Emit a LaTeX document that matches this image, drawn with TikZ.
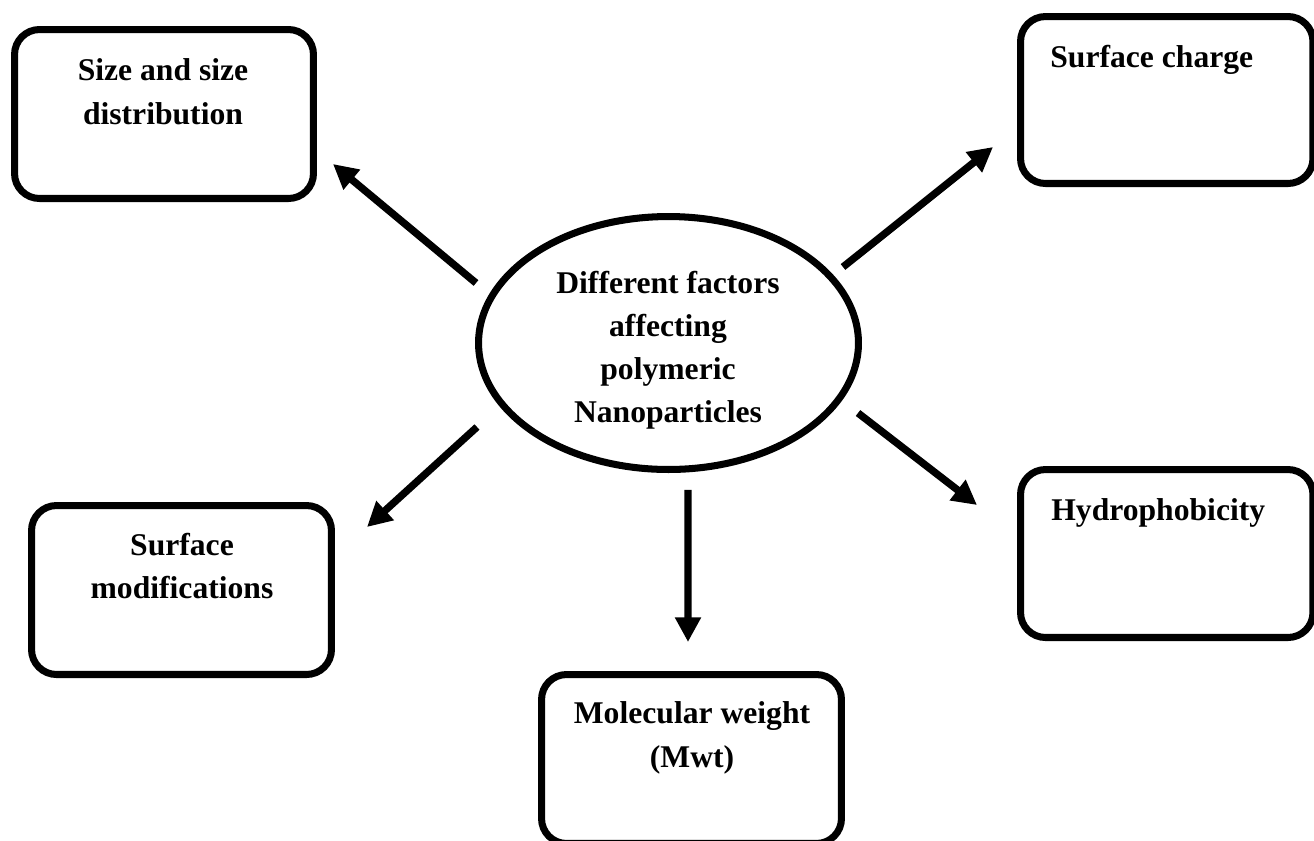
\documentclass[tikz,border=0pt]{standalone}
\usepackage{fontspec}
\setmainfont{Liberation Serif}
\usetikzlibrary{arrows.meta,shapes.geometric}

\begin{document}
\begin{tikzpicture}[x=0.02cm, y=-0.02cm,
  factor/.style={draw, line width=4pt, rounded corners=0.5cm, inner sep=0pt, outer sep=0pt},
  hub/.style={draw, ellipse, line width=4pt, inner sep=0pt, outer sep=0pt, minimum width=7.6cm, minimum height=5.06cm},
  lbl/.style={font=\fontsize{18}{24.6}\selectfont\bfseries, align=center, inner sep=0pt},
  arr/.style={line width=4.2pt, -{Triangle[length=14pt,width=14pt]}}]
  \useasboundingbox (0,0) rectangle (1314,840);
  % Central ellipse
  \node[hub] (fac) at (668.5,343) {};
  \node[lbl, anchor=north] (fac-t) at (668,270.5) {Different factors\\affecting\\polymeric\\Nanoparticles};
  % Factor boxes
  \node[factor, minimum width=5.98cm, minimum height=3.38cm] (size) at (164,114) {};
  \node[factor, minimum width=5.85cm, minimum height=3.34cm] (charge) at (1166.75,100) {};
  \node[factor, minimum width=6cm, minimum height=3.38cm] (modif) at (181.5,590) {};
  \node[factor, minimum width=5.85cm, minimum height=3.36cm] (hydro) at (1166.75,553.5) {};
  \node[factor, minimum width=6cm, minimum height=3.38cm] (mwt) at (691.5,759) {};
  % Box texts
  \node[lbl, anchor=north] (size-t) at (163,58.5) {Size and size\\distribution};
  \node[lbl, anchor=base west] (charge-t) at (1050,67) {Surface charge};
  \node[lbl, anchor=north] (modif-t) at (182,533) {Surface\\modifications};
  \node[lbl, anchor=base west] (hydro-t) at (1051,520) {Hydrophobicity};
  \node[lbl, anchor=north] (mwt-t) at (692,701.5) {Molecular weight\\(Mwt)};
  % Arrows out of the ellipse
  \draw[arr] ([shift={(-192.5,-60)}]fac.center) -- ([shift={(19.5,-34.5)}]size.south east);
  \draw[arr] ([shift={(174.5,-76)}]fac.center) -- ([shift={(-27.5,-36.5)}]charge.south west);
  \draw[arr] ([shift={(-191.5,84)}]fac.center) -- ([shift={(35.5,21.5)}]modif.north east);
  \draw[arr] ([shift={(19.5,20.5)}]fac.south) -- ([shift={(-3.5,-32.5)}]mwt.north);
  \draw[arr] ([shift={(189.5,70)}]fac.center) -- ([shift={(-43.5,35.5)}]hydro.north west);
\end{tikzpicture}
\end{document}
